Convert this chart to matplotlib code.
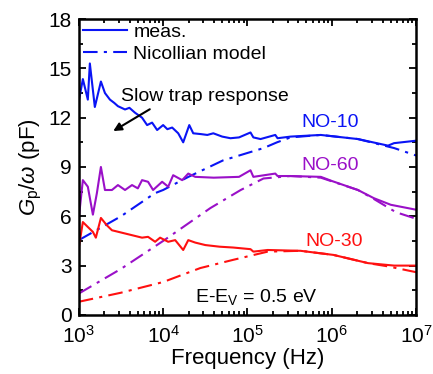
import numpy as np
import matplotlib
matplotlib.use('Agg')
import matplotlib.pyplot as plt
from matplotlib.ticker import MultipleLocator, LogLocator

plt.rcParams['font.family'] = ['Liberation Sans', 'DejaVu Sans']
plt.rcParams['mathtext.fontset'] = 'custom'
plt.rcParams['mathtext.rm'] = 'Liberation Sans'
plt.rcParams['mathtext.it'] = 'Liberation Sans:italic'

# log10(frequency) and Gp/w (pF)
lf_no10 = [3.0, 3.048, 3.107, 3.131, 3.19, 3.262, 3.31, 3.369, 3.42, 3.464, 3.548, 3.6, 3.667,
           3.75, 3.81, 3.869, 3.929, 4.0, 4.05, 4.107, 4.179, 4.238, 4.31, 4.357, 4.45, 4.524,
           4.595, 4.7, 4.798, 4.9, 5.036, 5.07, 5.155, 5.33, 5.357, 5.512, 5.869, 6.31, 6.667,
           6.738, 7.0]
meas_no10 = [13.0, 14.35, 13.1, 15.3, 12.65, 14.2, 13.5, 13.1, 12.9, 12.7, 12.5, 12.6, 12.3,
             12.0, 11.55, 11.7, 11.25, 11.55, 11.3, 11.4, 11.05, 10.5, 11.55, 11.05, 11.0, 10.95,
             11.05, 10.85, 10.75, 10.8, 11.1, 10.8, 10.7, 10.95, 10.75, 10.85, 10.95, 10.7, 10.3,
             10.45, 10.6]

lf_no60 = [3.0, 3.048, 3.107, 3.167, 3.214, 3.262, 3.31, 3.393, 3.464, 3.548, 3.631, 3.7, 3.75,
           3.821, 3.881, 3.988, 4.06, 4.119, 4.226, 4.298, 4.381, 4.6, 4.9, 5.036, 5.07, 5.33,
           5.357, 5.51, 5.87, 6.0, 6.31, 6.5, 6.7, 7.0]
meas_no60 = [5.9, 8.2, 7.8, 6.1, 7.4, 9.0, 7.6, 7.6, 7.9, 7.6, 7.9, 7.7, 8.2,
             8.1, 7.6, 8.1, 7.8, 8.5, 8.2, 8.6, 8.4, 8.35, 8.4, 8.8, 8.4, 8.6,
             8.45, 8.45, 8.4, 8.15, 7.6, 7.1, 6.7, 6.4]

lf_no30 = [3.0, 3.048, 3.107, 3.167, 3.202, 3.262, 3.333, 3.393, 3.512, 3.631, 3.75, 3.821,
           3.905, 3.964, 4.06, 4.143, 4.238, 4.298, 4.381, 4.5, 4.67, 4.83, 5.036, 5.07, 5.24,
           5.63, 6.02, 6.43, 6.74, 7.0]
meas_no30 = [4.1, 5.65, 5.35, 5.05, 4.7, 5.9, 5.45, 5.15, 5.0, 4.85, 4.7, 4.75,
             4.45, 4.7, 4.45, 4.55, 3.95, 4.55, 4.4, 4.25, 4.15, 4.1, 4.0, 3.85, 3.95,
             3.9, 3.65, 3.15, 3.0, 3.0]

lf_m10 = [3.0, 3.5, 3.9, 4.0, 4.3, 4.71, 5.19, 5.35, 5.51, 5.87, 6.31, 6.74, 7.0]
model_no10 = [4.55, 6.0, 7.4, 7.6, 8.4, 9.4, 10.15, 10.5, 10.8, 10.95, 10.7, 10.15, 9.7]

lf_m60 = [3.0, 3.5, 4.0, 4.56, 4.92, 5.19, 5.51, 5.87, 6.31, 6.5, 6.76, 7.0]
model_no60 = [1.3, 2.8, 4.5, 6.5, 7.6, 8.3, 8.45, 8.35, 7.6, 7.05, 6.25, 5.85]

lf_m30 = [3.0, 3.5, 4.0, 4.44, 4.83, 5.24, 5.63, 6.02, 6.43, 6.67, 7.0]
model_no30 = [0.8, 1.35, 2.0, 2.85, 3.35, 3.85, 3.9, 3.65, 3.15, 2.95, 2.6]

blue = '#0a14f5'
purple = '#9a10c8'
red = '#ff1010'
dashdot = (0, (7, 3, 1.5, 3))

fig = plt.figure(figsize=(4.33, 3.74), dpi=100)
ax = fig.add_axes([0.182, 0.158, 0.779, 0.791])

ax.plot(10 ** np.array(lf_no10), meas_no10, color=blue, lw=1.5, label='meas.')
ax.plot(10 ** np.array(lf_m10), model_no10, color=blue, lw=1.5, ls=dashdot, label='Nicollian model')
ax.plot(10 ** np.array(lf_no60), meas_no60, color=purple, lw=1.5)
ax.plot(10 ** np.array(lf_m60), model_no60, color=purple, lw=1.5, ls=dashdot)
ax.plot(10 ** np.array(lf_no30), meas_no30, color=red, lw=1.5)
ax.plot(10 ** np.array(lf_m30), model_no30, color=red, lw=1.5, ls=dashdot)

ax.set_xscale('log')
ax.set_xlim(1e3, 1e7)
ax.set_ylim(0, 18)
ax.yaxis.set_major_locator(MultipleLocator(3))
ax.yaxis.set_minor_locator(MultipleLocator(1.5))
ax.xaxis.set_minor_locator(LogLocator(base=10, subs=np.arange(2, 10), numticks=20))
ax.tick_params(which='both', direction='in', top=True, right=True, width=1.3)
ax.tick_params(which='major', length=5, labelsize=15)
ax.tick_params(which='minor', length=3)
ax.tick_params(axis='x', which='major', pad=7)
ax.tick_params(axis='y', which='major', pad=5)
for s in ax.spines.values():
    s.set_linewidth(1.8)

ax.set_xlabel('Frequency (Hz)', fontsize=16, labelpad=1)
ax.set_ylabel(r'$G_\mathrm{p}/\omega$ (pF)', fontsize=16, labelpad=3)

ax.legend(loc='upper left', frameon=False, fontsize=14, handlelength=2.3,
          borderaxespad=0.1, labelspacing=0.25, handletextpad=0.3, borderpad=0.1)

ax.text(10 ** 4.5, 13.3, 'Slow trap response', fontsize=14, ha='center', va='center')
ax.annotate('', xy=(10 ** 3.38, 11.1), xytext=(10 ** 3.87, 12.6),
            arrowprops=dict(arrowstyle='-|>', color='black', lw=1.5, mutation_scale=12))
ax.text(10 ** 5.98, 11.7, 'NO-10', color=blue, fontsize=14, ha='center', va='center')
ax.text(10 ** 5.98, 9.1, 'NO-60', color=purple, fontsize=14, ha='center', va='center')
ax.text(10 ** 6.03, 4.45, 'NO-30', color=red, fontsize=14, ha='center', va='center')
ax.text(10 ** 5.11, 1.1, r'E-E$_\mathrm{V}$ = 0.5 eV', fontsize=14, ha='center', va='center')

fig.savefig('out.png', dpi=100)
